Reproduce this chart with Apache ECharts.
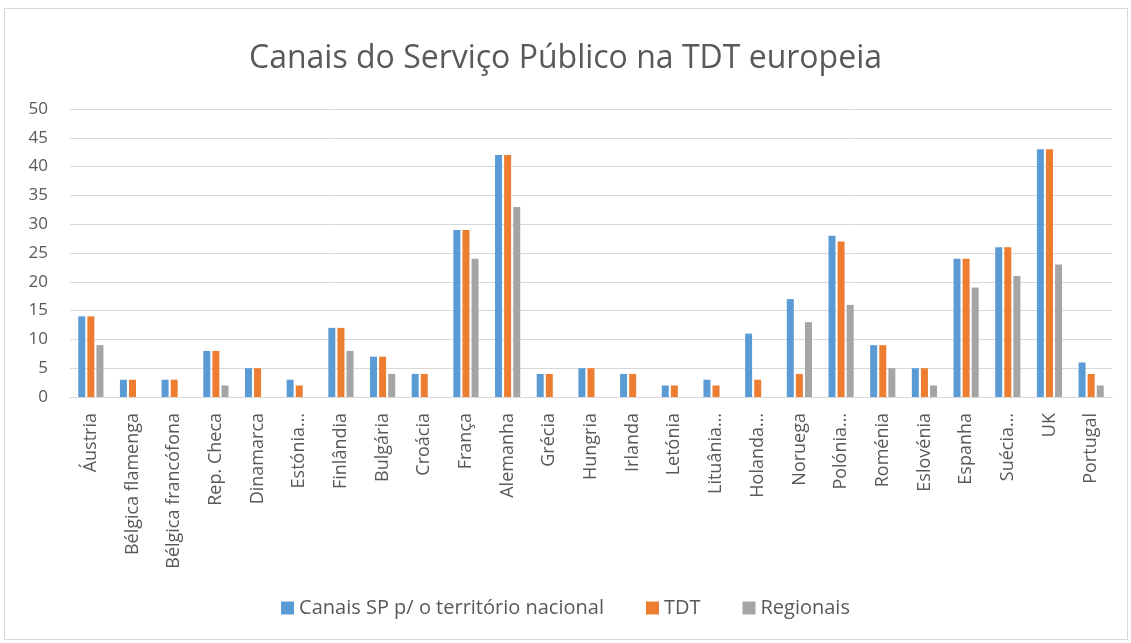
<!DOCTYPE html>
<html>
<head>
<meta charset="utf-8">
<script src="https://cdn.jsdelivr.net/npm/echarts@6/dist/echarts.min.js"></script>
<style>
  html, body { margin: 0; padding: 0; background: #fff; }
  #frame { position: absolute; left: 4px; top: 8px; width: 1122px; height: 630px; border: 1px solid #d9d9d9; }
  #main { position: absolute; left: 0; top: 0; width: 1131px; height: 643px; }
</style>
</head>
<body>
<div id="frame"></div>
<div id="main"></div>
<script>
var paises = ['Áustria', 'Bélgica flamenga', 'Bélgica francófona', 'Rep. Checa', 'Dinamarca',
    'Estónia…', 'Finlândia', 'Bulgária', 'Croácia', 'França', 'Alemanha', 'Grécia',
    'Hungria', 'Irlanda', 'Letónia', 'Lituânia…', 'Holanda…', 'Noruega', 'Polónia…',
    'Roménia', 'Eslovénia', 'Espanha', 'Suécia…', 'UK', 'Portugal'];
var canaisSP = [14, 3, 3, 8, 5, 3, 12, 7, 4, 29, 42, 4, 5, 4, 2, 3, 11, 17, 28, 9, 5, 24, 26, 43, 6];
var tdt = [14, 3, 3, 8, 5, 2, 12, 7, 4, 29, 42, 4, 5, 4, 2, 2, 3, 4, 27, 9, 5, 24, 26, 43, 4];
var regionais = [9, 0, 0, 2, 0, 0, 8, 4, 0, 24, 33, 0, 0, 0, 0, 0, 0, 13, 16, 5, 2, 19, 21, 23, 2];

var myChart = echarts.init(document.getElementById('main'));
var fonte = '"Open Sans", sans-serif';

var option = {
    animation: false,
    title: {
        text: 'Canais do Serviço Público na TDT europeia',
        left: 'center',
        top: 38,
        textStyle: {
            fontFamily: fonte,
            fontWeight: 'normal',
            fontSize: 32,
            color: '#595959'
        }
    },
    legend: {
        bottom: 20,
        left: 'center',
        itemWidth: 13,
        itemHeight: 13,
        itemGap: 42,
        icon: 'rect',
        textStyle: {
            fontFamily: fonte,
            fontSize: 20,
            color: '#595959'
        },
        data: ['Canais SP p/ o território nacional', 'TDT', 'Regionais']
    },
    grid: {
        left: 70,
        right: 19,
        top: 109,
        bottom: 246
    },
    xAxis: {
        type: 'category',
        data: paises,
        axisTick: { show: false },
        axisLine: { lineStyle: { color: '#d9d9d9' } },
        axisLabel: {
            rotate: 90,
            interval: 0,
            margin: 16,
            fontFamily: fonte,
            fontSize: 18,
            color: '#595959'
        }
    },
    yAxis: {
        type: 'value',
        min: 0,
        max: 50,
        interval: 5,
        axisLine: { show: false },
        axisTick: { show: false },
        splitLine: { lineStyle: { color: '#d9d9d9' } },
        axisLabel: {
            margin: 22,
            fontFamily: fonte,
            fontSize: 17,
            color: '#595959'
        }
    },
    series: [{
        name: 'Canais SP p/ o território nacional',
        type: 'bar',
        barWidth: 7,
        barGap: '30%',
        itemStyle: { color: '#5b9bd5' },
        data: canaisSP
    }, {
        name: 'TDT',
        type: 'bar',
        barWidth: 7,
        barGap: '30%',
        itemStyle: { color: '#ed7d31' },
        data: tdt
    }, {
        name: 'Regionais',
        type: 'bar',
        barWidth: 7,
        barGap: '30%',
        itemStyle: { color: '#a5a5a5' },
        data: regionais
    }]
};
myChart.setOption(option);
</script>
</body>
</html>
